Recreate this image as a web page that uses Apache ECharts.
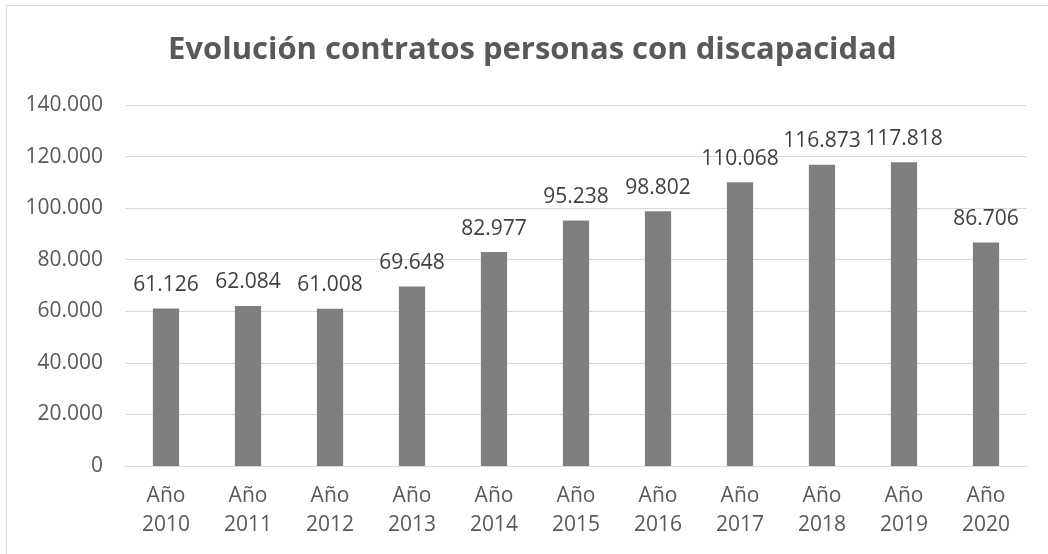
<!DOCTYPE html>
<html><head><meta charset="utf-8">
<script src="https://cdn.jsdelivr.net/npm/echarts@6/dist/echarts.min.js"></script>
<style>html,body{margin:0;padding:0;background:#fff}#c{width:1048px;height:554px}</style>
</head><body><div id="c"></div>
<script>
const categories = ['Año\n2010','Año\n2011','Año\n2012','Año\n2013','Año\n2014','Año\n2015','Año\n2016','Año\n2017','Año\n2018','Año\n2019','Año\n2020'];
const values = [61126, 62084, 61008, 69648, 82977, 95238, 98802, 110068, 116873, 117818, 86706];
const titleText = 'Evolución contratos personas con discapacidad';
function fmt(v){ return String(v).replace(/\B(?=(\d{3})+(?!\d))/g, '.'); }
const FONT = '"Open Sans", "Liberation Sans", sans-serif';
const chart = echarts.init(document.getElementById('c'));
chart.setOption({
  animation: false,
  backgroundColor: '#fff',
  title: { text: titleText, left: 163, top: 30, textStyle: { fontFamily: FONT, fontSize: 31, fontWeight: 'bold', color: '#595959' } },
  graphic: [{ type: 'rect', shape: { x: 6.5, y: 5.5, width: 1100, height: 600 }, style: { fill: 'none', stroke: '#d9d9d9', lineWidth: 1 }, silent: true }],
  grid: { left: 125, right: 21, top: 105, bottom: 88 },
  xAxis: {
    type: 'category', data: categories,
    axisLine: { lineStyle: { color: '#d9d9d9' } }, axisTick: { show: false },
    axisLabel: { fontFamily: FONT, fontSize: 21, color: '#595959', lineHeight: 29, margin: 16 }
  },
  yAxis: {
    type: 'value', min: 0, max: 140000, interval: 20000,
    axisLine: { show: false }, axisTick: { show: false },
    splitLine: { lineStyle: { color: '#d9d9d9' } },
    axisLabel: { fontFamily: FONT, fontSize: 21, color: '#595959', margin: 22, formatter: fmt }
  },
  series: [{
    type: 'bar', data: values, barWidth: '32%',
    itemStyle: { color: '#7f7f7f' },
    label: { show: true, position: 'top', distance: 13, fontFamily: FONT, fontSize: 21, color: '#404040', formatter: p => fmt(p.value) }
  }]
});
</script></body></html>
